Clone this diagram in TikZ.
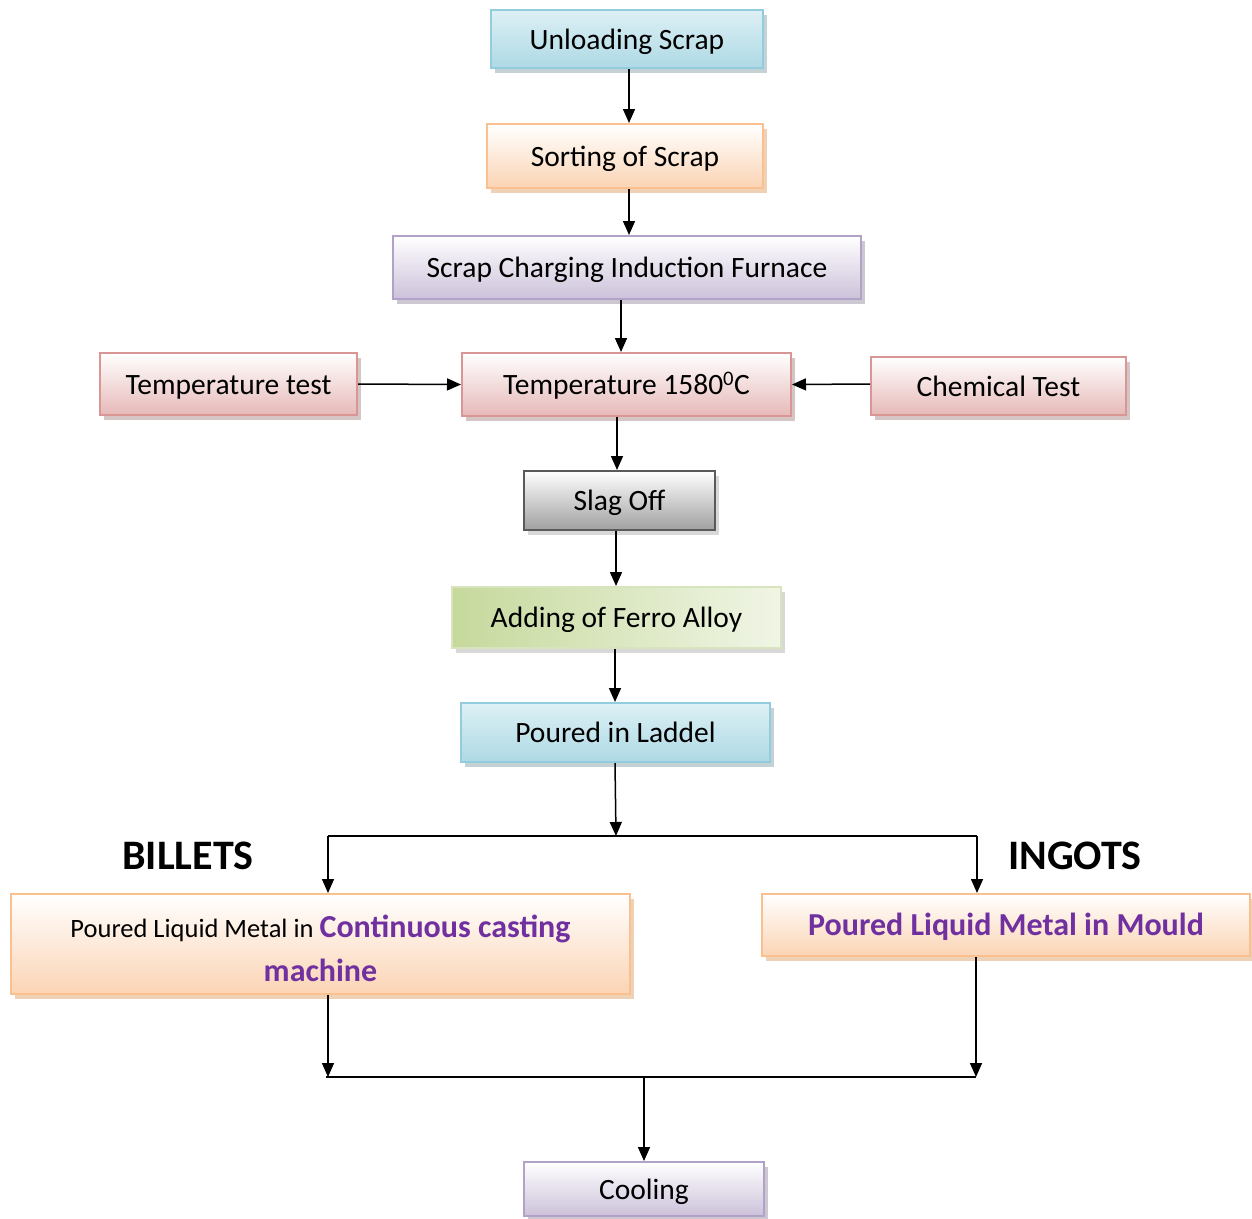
\documentclass[tikz,border=0pt]{standalone}
\usepackage{fontspec}
\setmainfont{Carlito}
\usetikzlibrary{arrows.meta,shadows,calc}
\definecolor{bluebd}{HTML}{93CDDD}
\definecolor{bluetop}{HTML}{DDF0F5}
\definecolor{bluebot}{HTML}{AED9E5}
\definecolor{orbd}{HTML}{FAC090}
\definecolor{orbot}{HTML}{FBD4B4}
\definecolor{pubd}{HTML}{B3A2C7}
\definecolor{pubot}{HTML}{CCC1DA}
\definecolor{rebd}{HTML}{D99694}
\definecolor{rebot}{HTML}{E6B9B8}
\definecolor{grbd}{HTML}{5A5A5A}
\definecolor{grbot}{HTML}{A0A0A0}
\definecolor{gnbd}{HTML}{D7E4BD}
\definecolor{gnl}{HTML}{C6D99C}
\definecolor{gnr}{HTML}{F0F5E5}
\definecolor{purptext}{HTML}{7030A0}
\tikzset{
  box/.style={rectangle, inner sep=0pt, line width=2pt, align=center,
    font=\fontsize{29.5}{34}\selectfont},
  oneline/.style={text height=23pt, text depth=3pt},
  bluebox/.style={box, draw=bluebd, top color=bluetop, bottom color=bluebot,
    drop shadow={shadow xshift=4pt, shadow yshift=-5pt, fill=bluebd!50!gray}},
  orbox/.style={box, draw=orbd, top color=white, bottom color=orbot,
    drop shadow={shadow xshift=4pt, shadow yshift=-5pt, fill=orbd!55!brown}},
  pubox/.style={box, draw=pubd, top color=white, bottom color=pubot,
    drop shadow={shadow xshift=4pt, shadow yshift=-5pt, fill=pubd!50!gray}},
  rebox/.style={box, draw=rebd, top color=white, bottom color=rebot,
    drop shadow={shadow xshift=4pt, shadow yshift=-5pt, fill=rebd!50!gray}},
  grbox/.style={box, draw=grbd, top color=white, bottom color=grbot,
    drop shadow={shadow xshift=4pt, shadow yshift=-5pt, fill=gray!60}},
  gnbox/.style={box, draw=gnbd, left color=gnl, right color=gnr,
    drop shadow={shadow xshift=4pt, shadow yshift=-5pt, fill=gray!60}},
  conn/.style={line width=1.5pt, draw=black},
  arr/.style={conn, -{Triangle[length=14pt,width=12pt]}},
  biglabel/.style={font=\fontsize{42}{46}\selectfont\bfseries, inner sep=0pt}
}
\begin{document}
\begin{tikzpicture}[x=1pt,y=-1pt]
\useasboundingbox (0,0) rectangle (1252,1218);
\node[bluebox, oneline, minimum width=272pt, minimum height=58pt] (unl) at (627,39) {Unloading Scrap};
\node[orbox, oneline, minimum width=276pt, minimum height=64pt] (sort) at (625,156) {Sorting of Scrap};
\node[pubox, oneline, minimum width=468pt, minimum height=63pt] (charge) at (627,267.5) {Scrap Charging Induction Furnace};
\node[rebox, oneline, minimum width=257pt, minimum height=62pt] (ttest) at (228.5,384) {Temperature test};
\node[rebox, oneline, minimum width=329pt, minimum height=63pt] (temp) at (626.5,384.5) {Temperature 1580\textsuperscript{0}C};
\node[rebox, oneline, minimum width=255pt, minimum height=58pt] (chem) at (998.5,386) {Chemical Test};
\node[grbox, oneline, minimum width=191pt, minimum height=59pt] (slag) at (619.5,500.5) {Slag Off};
\node[gnbox, oneline, minimum width=329pt, minimum height=61pt] (ferro) at (616.5,617.5) {Adding of Ferro Alloy};
\node[bluebox, oneline, minimum width=309pt, minimum height=59pt] (ladle) at (615.5,732.5) {Poured in Laddel};
\node[orbox, minimum width=619pt, minimum height=100pt] (cont) at (320.5,944)
  {\rule{0pt}{32pt}{\fontsize{26.5}{30}\selectfont Poured Liquid Metal in }{\fontsize{32}{36}\selectfont\bfseries\color{purptext}Continuous casting}\\[10pt]
   {\fontsize{32}{36}\selectfont\bfseries\color{purptext}machine}};
\node[orbox, oneline, minimum width=488pt, minimum height=62pt] (mould) at (1006,925)
  {\fontsize{32}{36}\selectfont\bfseries\color{purptext}Poured Liquid Metal in Mould};
\node[pubox, oneline, minimum width=240pt, minimum height=54pt] (cool) at (644,1189) {Cooling};
\node[biglabel] (billets) at (188,856) {BILLETS};
\node[biglabel] (ingots) at (1075,856) {INGOTS};
\coordinate (j1) at (616,836);
\coordinate (jl) at (328,836);
\coordinate (jr) at (977,836);
\coordinate (j2) at (644,1077);
\coordinate (j2l) at (326,1077);
\coordinate (j2r) at (976,1077);
\draw[arr] (unl.south -| 629,0) -- (sort.north -| 629,0);
\draw[arr] (sort.south -| 629,0) -- (charge.north -| 629,0);
\draw[arr] (charge.south -| 621,0) -- (temp.north -| 621,0);
\draw[arr] (ttest.east) -- (temp.west);
\draw[arr] (chem.west |- 0,384) -- (temp.east);
\draw[arr] (temp.south -| 617,0) -- (slag.north -| 617,0);
\draw[arr] (slag.south -| 616,0) -- (ferro.north -| 616,0);
\draw[arr] (ferro.south -| 615,0) -- (ladle.north -| 615,0);
\draw[arr] (ladle.south -| 615,0) -- (j1);
\draw[conn] (jl) -- (jr);
\draw[arr] (jl) -- (cont.north -| jl);
\draw[arr] (jr) -- (mould.north -| jr);
\draw[arr] (cont.south -| 328,0) -- (j2l -| 328,0);
\draw[arr] (mould.south -| j2r) -- (j2r);
\draw[conn] (j2l) -- (j2r);
\draw[arr] (j2) -- (cool.north -| j2);
\end{tikzpicture}
\end{document}
